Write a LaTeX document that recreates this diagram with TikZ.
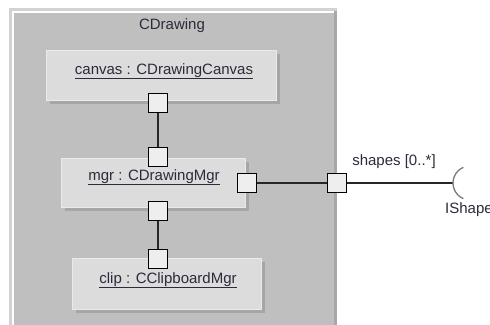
\documentclass[tikz,border=0pt]{standalone}
\usepackage{fontspec}
\setmainfont{Liberation Sans}
\usetikzlibrary{shadows}
\definecolor{frameout}{HTML}{D2D2D2}
\definecolor{panel}{HTML}{BFBFBF}
\definecolor{paneldark}{HTML}{A8A8A8}
\definecolor{objfill}{HTML}{DCDCDC}
\definecolor{objedge}{HTML}{EAEAEA}
\definecolor{shadowc}{HTML}{A6A6A6}
\definecolor{portfill}{HTML}{EEEEEE}
\definecolor{txt}{HTML}{2B2B3B}
\definecolor{sockc}{HTML}{7A7A7A}
\begin{document}
\begin{tikzpicture}[x=1pt,y=-1pt,
  obj/.style={fill=objfill, draw=objedge, line width=0.8pt, inner sep=0,
    general shadow={fill=shadowc, shadow xshift=3.5pt, shadow yshift=-3.5pt}},
  port/.style={draw=black, fill=portfill, line width=1.3pt, minimum size=19pt, inner sep=0},
  lbl/.style={text=txt, font=\fontsize{15}{18}\selectfont, inner sep=0},
  conn/.style={line width=1.5pt, draw=black!85},
  sockstyle/.style={draw=sockc, line width=1.3pt}]
\useasboundingbox (0,0) rectangle (490,324);
\begin{scope}
\clip (0,0) rectangle (490,324);
\fill[frameout] (9,8) rectangle (337,330);
\fill[white] (12,11) rectangle (335,330);
\fill[panel] (14,13) rectangle (334,330);
\fill[paneldark] (334,11) rectangle (337,330);
\end{scope}
\node[lbl] (title) at (172,26) {CDrawing};
\node[obj, minimum width=230pt, minimum height=50pt] (canvas) at (161,75) {};
\node[lbl, anchor=base] (canvasl) at (164,74) {\underline{canvas : CDrawingCanvas}};
\node[obj, minimum width=184pt, minimum height=49pt] (mgr) at (153,182.5) {};
\node[lbl, anchor=base] (mgrl) at (154,180) {\underline{mgr : CDrawingMgr}};
\node[obj, minimum width=189pt, minimum height=51pt] (clip) at (166.5,283.5) {};
\node[lbl, anchor=base] (clipl) at (168,283) {\underline{clip : CClipboardMgr}};
\node[port] (p1) at (158,103) {};
\node[port] (p2) at (158,157) {};
\node[port] (p3) at (158,211) {};
\node[port] (p4) at (158,259) {};
\node[port] (p5) at (247,183) {};
\node[port] (p6) at (337,183) {};
\coordinate (sockc) at (470,183);
\coordinate (sock) at (453,183);
\draw[conn] (p1) -- (p2);
\draw[conn] (p3) -- (p4);
\draw[conn] (p5) -- (p6);
\draw[conn] (p6) -- (sock);
\draw[sockstyle] (sockc) ++(113:17) arc (113:247:17);
\node[lbl] (shapes) at (394,162) {shapes [0..*]};
\node[lbl, anchor=west] (ishape) at (445,210) {IShape};
\end{tikzpicture}
\end{document}
